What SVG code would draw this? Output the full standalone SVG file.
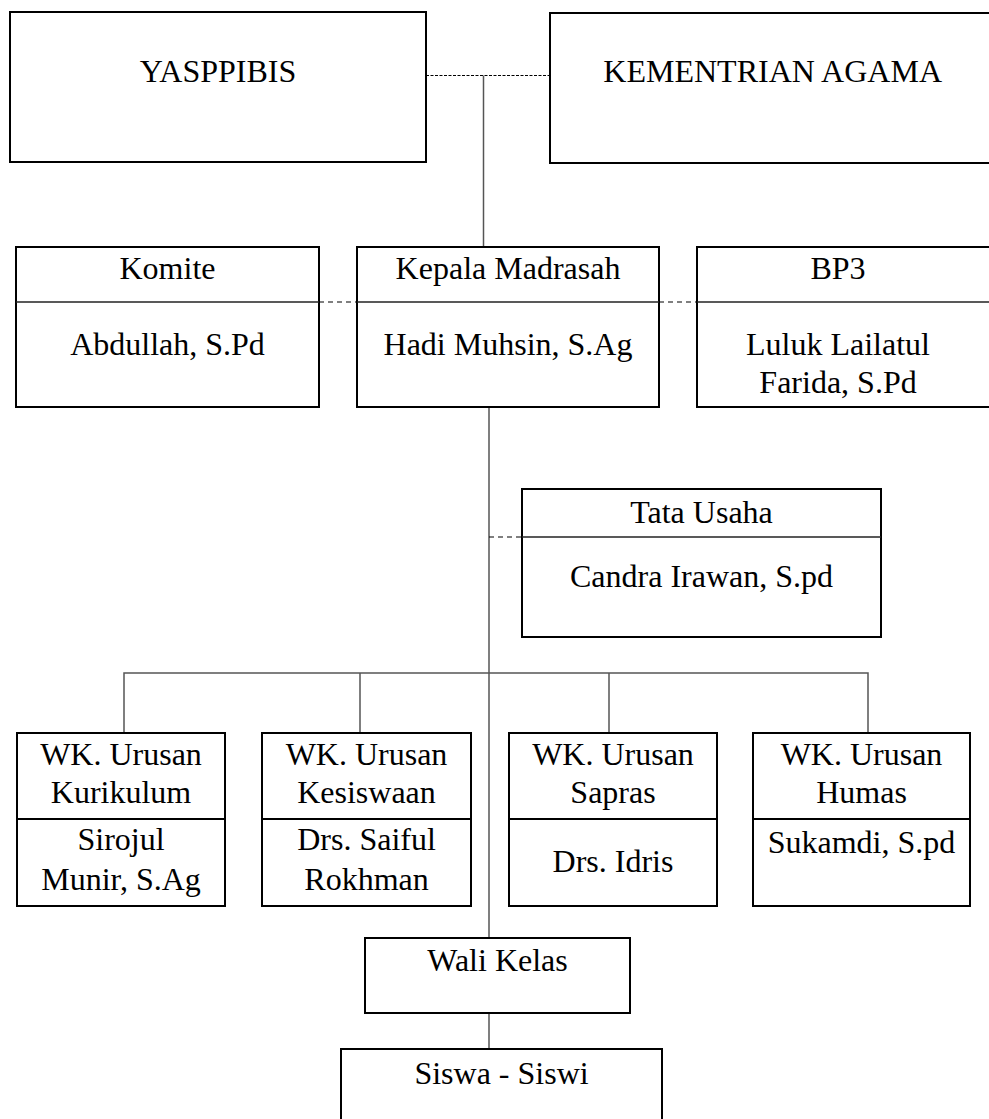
<svg xmlns="http://www.w3.org/2000/svg" width="989" height="1119" viewBox="0 0 989 1119">
<style>
.box{fill:#fff;stroke:#000;stroke-width:2}
.div{stroke:#222;stroke-width:1.3}
.div2{stroke:#000;stroke-width:2}
.ln{stroke:#555;stroke-width:1.5;fill:none}
.dash{stroke:#000;stroke-width:1.2;stroke-dasharray:5 4;fill:none}
.dash2{stroke:#000;stroke-width:1;stroke-dasharray:3 1.5;fill:none}
.t{font-family:'Liberation Serif','DejaVu Serif',serif;font-size:32px;fill:#000;text-anchor:middle}
</style>
<rect width="989" height="1119" fill="#fff"/>
<g id="connectors">
<line class="dash2" x1="426" y1="75.5" x2="550" y2="75.5"/>
<line class="ln" x1="483.5" y1="75.5" x2="483.5" y2="247"/>
<line class="dash" x1="319" y1="302" x2="357" y2="302"/>
<line class="dash" x1="659" y1="302" x2="697" y2="302"/>
<line class="ln" x1="489" y1="407" x2="489" y2="938"/>
<line class="dash" x1="489" y1="537" x2="522" y2="537"/>
<polyline class="ln" points="124,733 124,673 868,673 868,733"/>
<line class="ln" x1="360" y1="673" x2="360" y2="733"/>
<line class="ln" x1="609" y1="673" x2="609" y2="733"/>
<line class="ln" x1="489" y1="1013" x2="489" y2="1049"/>
</g>
<g class="t" font-family="Liberation Serif, DejaVu Serif, serif">
<g id="yasppibis">
<rect class="box" x="10" y="12" width="416" height="150"/>
<text x="218" y="82">YASPPIBIS</text>
</g>
<g id="kementrian">
<rect class="box" x="550" y="13" width="460" height="150"/>
<text x="942" y="82" text-anchor="end" style="text-anchor:end">KEMENTRIAN AGAMA</text>
</g>
<g id="komite">
<rect class="box" x="16" y="247" width="303" height="160"/>
<line class="div" x1="16" y1="302" x2="319" y2="302"/>
<text x="167.5" y="279">Komite</text>
<text x="167.5" y="355">Abdullah, S.Pd</text>
</g>
<g id="kepala">
<rect class="box" x="357" y="247" width="302" height="160"/>
<line class="div" x1="357" y1="302" x2="659" y2="302"/>
<text x="508" y="279">Kepala Madrasah</text>
<text x="508" y="355">Hadi Muhsin, S.Ag</text>
</g>
<g id="bp3">
<rect class="box" x="697" y="247" width="302" height="160"/>
<line class="div" x1="697" y1="302" x2="999" y2="302"/>
<text x="838" y="279">BP3</text>
<text x="838" y="355">Luluk Lailatul</text>
<text x="838" y="393">Farida, S.Pd</text>
</g>
<g id="tatausaha">
<rect class="box" x="522" y="489" width="359" height="148"/>
<line class="div" x1="522" y1="537" x2="881" y2="537"/>
<text x="701.5" y="523">Tata Usaha</text>
<text x="701.5" y="587">Candra Irawan, S.pd</text>
</g>
<g id="kurikulum">
<rect class="box" x="17" y="733" width="208" height="173"/>
<line class="div2" x1="17" y1="819" x2="225" y2="819"/>
<text x="121" y="765">WK. Urusan</text>
<text x="121" y="803">Kurikulum</text>
<text x="121" y="850">Sirojul</text>
<text x="121" y="890">Munir, S.Ag</text>
</g>
<g id="kesiswaan">
<rect class="box" x="262" y="733" width="209" height="173"/>
<line class="div2" x1="262" y1="819" x2="471" y2="819"/>
<text x="366.5" y="765">WK. Urusan</text>
<text x="366.5" y="803">Kesiswaan</text>
<text x="366.5" y="850">Drs. Saiful</text>
<text x="366.5" y="890">Rokhman</text>
</g>
<g id="sapras">
<rect class="box" x="509" y="733" width="208" height="173"/>
<line class="div2" x1="509" y1="819" x2="717" y2="819"/>
<text x="613" y="765">WK. Urusan</text>
<text x="613" y="803">Sapras</text>
<text x="613" y="872">Drs. Idris</text>
</g>
<g id="humas">
<rect class="box" x="753" y="733" width="217" height="173"/>
<line class="div2" x1="753" y1="819" x2="970" y2="819"/>
<text x="861.5" y="765">WK. Urusan</text>
<text x="861.5" y="803">Humas</text>
<text x="861.5" y="853">Sukamdi, S.pd</text>
</g>
<g id="walikelas">
<rect class="box" x="365" y="938" width="265" height="75"/>
<text x="497.5" y="971">Wali Kelas</text>
</g>
<g id="siswa">
<rect class="box" x="341" y="1049" width="321" height="100"/>
<text x="501.5" y="1084">Siswa - Siswi</text>
</g>
</g>
</svg>
